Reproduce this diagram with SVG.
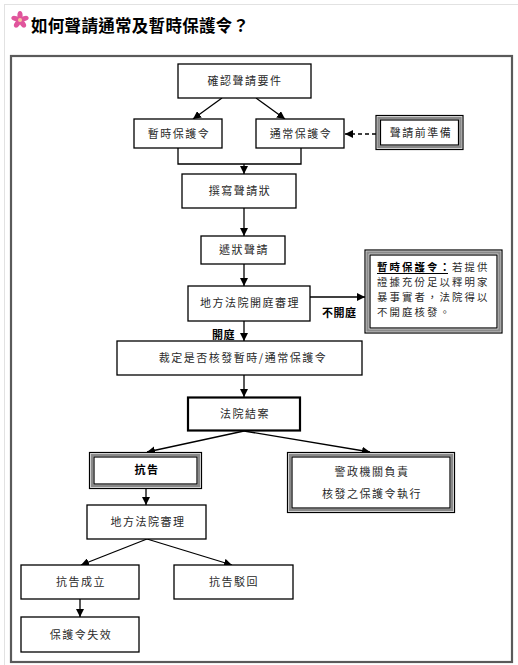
<svg xmlns="http://www.w3.org/2000/svg" width="518" height="665" viewBox="0 0 518 665">
<style>
.box{fill:#fff;stroke:#000;stroke-width:1.3}
.thick{fill:#fff;stroke:#000;stroke-width:2.2}
.dbo{fill:#fff;stroke:#000;stroke-width:1.2}
.dbm{fill:none;stroke:#8a8a8a;stroke-width:2.5}
.dbi{fill:none;stroke:#000;stroke-width:1.2}
.t{font-family:"Noto Sans CJK TC","Noto Sans CJK SC",sans-serif;font-size:11px;letter-spacing:1.5px;fill:#2a2a2a;text-anchor:middle}
.tl{font-family:"Noto Sans CJK TC","Noto Sans CJK SC",sans-serif;font-size:10.4px;letter-spacing:2.1px;fill:#2a2a2a}
.b{font-weight:bold;fill:#000}
.lbl{font-family:"Noto Sans CJK TC","Noto Sans CJK SC",sans-serif;font-size:11px;font-weight:bold;letter-spacing:0.5px;fill:#000}
.c{fill:none;stroke:#000;stroke-width:1.3}
</style>
<defs>
<marker id="ah" viewBox="0 0 10 10" refX="10" refY="5" markerWidth="8" markerHeight="8" markerUnits="userSpaceOnUse" orient="auto">
<path d="M0,0 L10,5 L0,10 z" fill="#000"/>
</marker>
</defs>
<rect width="518" height="665" fill="#fff"/>
<rect x="4.5" y="4.5" width="514" height="662" fill="none" stroke="#e2e2e2" stroke-width="1"/>
<g id="title">
<g transform="translate(20,20)">
<ellipse cx="0" cy="-4.5" rx="2.6" ry="4.5" fill="#e0559c"/>
<ellipse cx="0" cy="-4.5" rx="2.6" ry="4.5" fill="#e0559c" transform="rotate(72)"/>
<ellipse cx="0" cy="-4.5" rx="2.6" ry="4.5" fill="#e0559c" transform="rotate(144)"/>
<ellipse cx="0" cy="-4.5" rx="2.6" ry="4.5" fill="#e0559c" transform="rotate(216)"/>
<ellipse cx="0" cy="-4.5" rx="2.6" ry="4.5" fill="#e0559c" transform="rotate(288)"/>
<circle cx="0" cy="0" r="2" fill="#f6c7a0"/>
</g>
<text x="31" y="32" font-family="'Noto Sans CJK TC','Noto Sans CJK SC',sans-serif" font-size="16.5" font-weight="bold" letter-spacing="0.3" fill="#000">如何聲請通常及暫時保護令？</text>
</g>
<rect id="frame" x="11" y="56" width="501" height="606" fill="none" stroke="#5a5a5a" stroke-width="2.2"/>
<g id="connectors">
<line class="c" x1="222" y1="98" x2="193" y2="119" marker-end="url(#ah)"/>
<line class="c" x1="256" y1="98" x2="285" y2="119" marker-end="url(#ah)"/>
<line class="c" x1="376" y1="134" x2="345" y2="134" stroke-dasharray="4,3" marker-end="url(#ah)"/>
<path class="c" d="M178,148 V164 H301 V148"/>
<line class="c" x1="244" y1="164" x2="244" y2="174" marker-end="url(#ah)"/>
<line class="c" x1="244" y1="208" x2="244" y2="236" marker-end="url(#ah)"/>
<line class="c" x1="244" y1="264" x2="244" y2="286" marker-end="url(#ah)"/>
<line class="c" x1="310" y1="297" x2="365" y2="297" marker-end="url(#ah)"/>
<line class="c" x1="244" y1="321" x2="244" y2="341" marker-end="url(#ah)"/>
<line class="c" x1="244" y1="375" x2="244" y2="397" marker-end="url(#ah)"/>
<line class="c" x1="244" y1="431" x2="147" y2="452" marker-end="url(#ah)"/>
<line class="c" x1="244" y1="431" x2="370" y2="452" marker-end="url(#ah)"/>
<line class="c" x1="146" y1="489" x2="146" y2="505" marker-end="url(#ah)"/>
<line class="c" x1="147" y1="539" x2="81" y2="565" marker-end="url(#ah)"/>
<line class="c" x1="147" y1="539" x2="232" y2="565" marker-end="url(#ah)"/>
<line class="c" x1="80" y1="599" x2="80" y2="617" marker-end="url(#ah)"/>
<text class="lbl" x="322" y="317">不開庭</text>
<text class="lbl" x="212" y="339">開庭</text>
</g>
<g id="n1"><rect class="box" x="178" y="64" width="133" height="34"/><text class="t" x="245" y="85">確認聲請要件</text></g>
<g id="n2"><rect class="box" x="134" y="119" width="88" height="29"/><text class="t" x="179" y="138">暫時保護令</text></g>
<g id="n3"><rect class="box" x="256" y="119" width="88" height="29"/><text class="t" x="301" y="138">通常保護令</text></g>
<g id="n4"><rect class="dbo" x="376" y="115.5" width="87" height="34"/><rect class="dbm" x="378.5" y="118" width="82" height="29"/><rect class="dbi" x="380.5" y="120" width="78" height="25"/><text class="t" x="421" y="137">聲請前準備</text></g>
<g id="n5"><rect class="box" x="182" y="174" width="114" height="34"/><text class="t" x="240" y="195">撰寫聲請狀</text></g>
<g id="n6"><rect class="box" x="201" y="236" width="84" height="28"/><text class="t" x="244" y="254">遞狀聲請</text></g>
<g id="n7"><rect class="box" x="188" y="286" width="122" height="35"/><text class="t" x="250" y="307">地方法院開庭審理</text></g>
<g id="n8"><rect class="dbo" x="365" y="250" width="137" height="83"/><rect class="dbm" x="367.5" y="252.5" width="132" height="78"/><rect class="dbi" x="370" y="255" width="127" height="73"/>
<text class="tl" x="377" y="270.5"><tspan class="b">暫時保護令：</tspan>若提供</text>
<line x1="377" y1="273.5" x2="448" y2="273.5" stroke="#000" stroke-width="1"/>
<text class="tl" x="377" y="285.8">證據充份足以釋明家</text>
<text class="tl" x="377" y="301.1">暴事實者，法院得以</text>
<text class="tl" x="377" y="316.4">不開庭核發。</text></g>
<g id="n9"><rect class="box" x="117" y="341" width="245" height="34"/><text class="t" x="243" y="362">裁定是否核發暫時/通常保護令</text></g>
<g id="n10"><rect class="thick" x="188" y="397.5" width="112" height="33"/><text class="t" x="245" y="418">法院結案</text></g>
<g id="n11"><rect class="dbo" x="89.5" y="452.5" width="112" height="36"/><rect class="dbm" x="92" y="455" width="107" height="31"/><rect class="dbi" x="94" y="457" width="103" height="27"/><text class="t b" x="147" y="474">抗告</text></g>
<g id="n12"><rect class="dbo" x="287.5" y="452.5" width="167" height="60"/><rect class="dbm" x="290" y="455" width="162" height="55"/><rect class="dbi" x="292" y="457" width="158" height="51"/><text class="t" x="372" y="476">警政機關負責</text><text class="t" x="372" y="498">核發之保護令執行</text></g>
<g id="n13"><rect class="box" x="87" y="505" width="119" height="34"/><text class="t" x="148" y="526">地方法院審理</text></g>
<g id="n14"><rect class="box" x="21" y="565" width="118" height="34"/><text class="t" x="81" y="586">抗告成立</text></g>
<g id="n15"><rect class="box" x="174" y="565" width="119" height="34"/><text class="t" x="234" y="586">抗告駁回</text></g>
<g id="n16"><rect class="box" x="21" y="617" width="118" height="35"/><text class="t" x="81" y="639">保護令失效</text></g>
</svg>
